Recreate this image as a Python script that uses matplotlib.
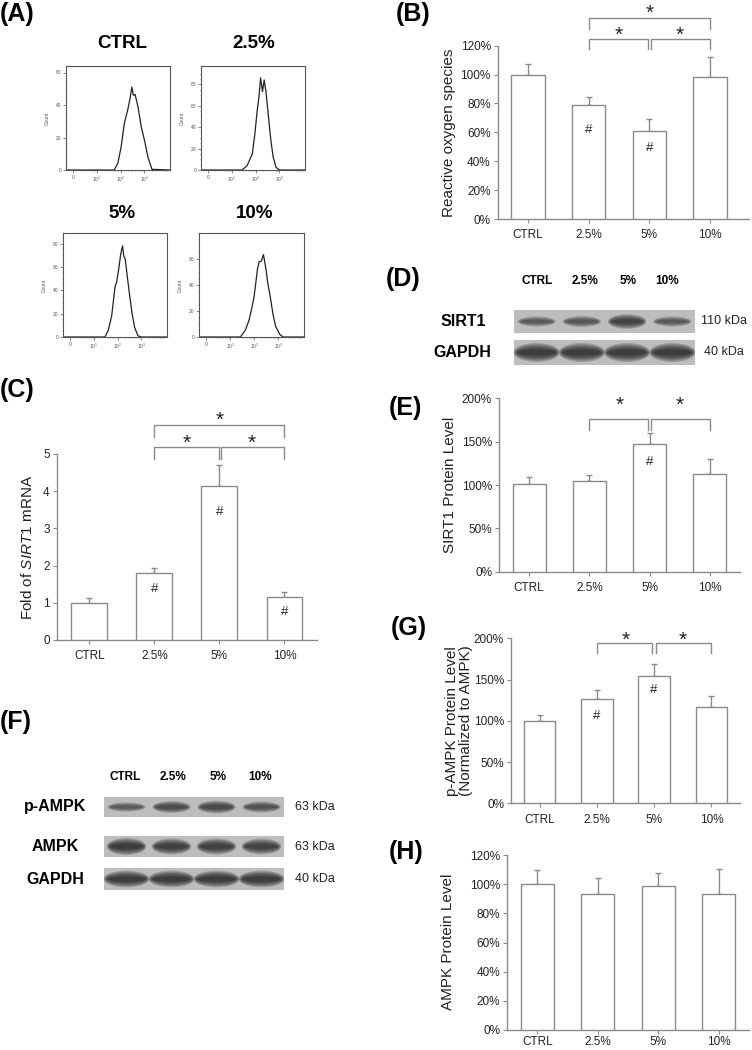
import numpy as np
import matplotlib
matplotlib.use('Agg')
import matplotlib.pyplot as plt
from matplotlib.patches import Ellipse

plt.rcParams['font.family'] = ['Liberation Sans', 'DejaVu Sans']
plt.rcParams['mathtext.fontset'] = 'custom'
plt.rcParams['mathtext.rm'] = 'Liberation Sans'
plt.rcParams['mathtext.it'] = 'Liberation Sans:italic'

# ---- data ----
groups = ['CTRL', '2.5%', '5%', '10%']

# flow cytometry histograms (x in decades of fluorescence, y = count)
ctrl_hist_x = [-0.3, 1.73, 1.88, 2.02, 2.16, 2.30, 2.41, 2.47, 2.54, 2.61, 2.73, 2.87, 3.01, 3.15, 3.32, 4.1]
ctrl_hist_y = [0, 0, 4, 14, 29, 37, 45, 51, 46, 46.5, 39, 26.5, 18, 8, 0.4, 0]
h25_x = [-0.3, 1.43, 1.64, 1.86, 1.97, 2.07, 2.14, 2.21, 2.29, 2.36, 2.43, 2.5, 2.64, 2.74, 2.86, 3.0, 4.1]
h25_y = [0, 0, 4, 15, 34, 56, 68, 86, 73, 84, 74, 59, 28, 12, 2.5, 0, 0]
h5_x = [-0.3, 1.47, 1.61, 1.75, 1.89, 1.96, 2.06, 2.13, 2.21, 2.26, 2.32, 2.40, 2.51, 2.61, 2.72, 2.86, 3.0, 4.1]
h5_y = [0, 0, 6, 18, 43, 47, 60, 71, 78, 69, 67, 53, 35, 20, 8, 1, 0, 0]
h10_x = [-0.3, 1.43, 1.64, 1.79, 1.89, 2.0, 2.14, 2.21, 2.3, 2.39, 2.5, 2.57, 2.67, 2.79, 2.9, 3.07, 3.21, 4.1]
h10_y = [0, 0, 5.5, 13, 21, 31, 52, 57.5, 58, 63, 51, 41, 31, 17, 8, 2, 0, 0]

ros_mean = [100, 79, 61, 98.5]
ros_err = [7, 5.5, 8, 13.5]
mrna_mean = [1.0, 1.79, 4.15, 1.16]
mrna_err = [0.12, 0.14, 0.56, 0.12]
sirt1_mean = [101, 105, 147, 112.5]
sirt1_err = [8, 6, 13, 17.5]
pampk_mean = [100, 126.3, 153.7, 116.3]
pampk_err = [7, 10.7, 15.3, 13.3]
ampk_mean = [100, 93.3, 99, 93.3]
ampk_err = [9.5, 10.7, 8.9, 17.3]

# band darkness per lane (western blots)
sirt1_bands = [0.6, 0.65, 0.85, 0.6]
gapdh_d_bands = [0.95, 0.95, 0.95, 0.95]
pampk_bands = [0.6, 0.75, 0.8, 0.7]
ampk_bands = [0.95, 0.9, 0.9, 0.88]
gapdh_f_bands = [0.95, 0.95, 0.95, 0.95]

EDGE = '#8a8a8a'
TXT = '#222222'
W, H = 752, 1050
fig = plt.figure(figsize=(W / 100, H / 100), dpi=100)


def px_axes(x0, y0, x1, y1):
    return fig.add_axes([x0 / W, 1 - y1 / H, (x1 - x0) / W, (y1 - y0) / H])


def fig_text(x, y, s, **kw):
    fig.text(x / W, 1 - y / H, s, **kw)


def panel_label(x, y, s):
    fig_text(x, y, s, fontsize=18, fontweight='bold', ha='left', va='center')


# ---- (A) histograms ----
def hist_panel(box, xs, ys, ytop, yticks, title, tpos):
    ax = px_axes(*box)
    ax.plot(xs, ys, color='#222222', lw=0.9)
    ax.set_xlim(-0.3, 4.08)
    ax.set_ylim(0, ytop)
    ax.set_xticks([0, 1, 2, 3], ['0', r'$10^1$', r'$10^2$', r'$10^3$'])
    minor = [d + np.log10(k) for d in range(0, 4) for k in range(2, 10)]
    ax.set_xticks(minor, minor=True)
    ax.set_yticks(yticks, [str(v) for v in yticks])
    ax.set_yticks(np.arange(0, ytop, 5), minor=True)
    for s in ax.spines.values():
        s.set_color('#555555')
        s.set_linewidth(0.8)
    ax.tick_params(which='major', length=2, width=0.5, color='#555555', labelsize=3.5,
                   labelcolor='#555555', pad=1.5)
    ax.tick_params(which='minor', length=1, width=0.4, color='#777777')
    ax.set_ylabel('Count', fontsize=3.5, color='#555555', labelpad=4)
    fig_text(tpos[0], tpos[1], title, fontsize=13.5, fontweight='bold', ha='center', va='center')


hist_panel((66, 66, 170, 170), ctrl_hist_x, ctrl_hist_y, 64, [0, 20, 40, 60], 'CTRL', (122, 43))
hist_panel((201, 66, 305, 170), h25_x, h25_y, 97, [0, 20, 40, 60, 80], '2.5%', (254, 43))
hist_panel((63, 233, 167, 337), h5_x, h5_y, 89, [0, 20, 40, 60, 80], '5%', (122, 214))
hist_panel((199, 233, 304, 337), h10_x, h10_y, 79.5, [0, 20, 40, 60], '10%', (255, 214))


# ---- bar chart helpers ----
STAR_FS = 15
HASH_FS = 9.5


def bar_panel(box, means, errs, ymax, yticks, ylabels, xmax, xpad=4.5):
    ax = px_axes(*box)
    x = np.arange(len(groups))
    ax.bar(x, means, width=0.55, color='white', edgecolor=EDGE, linewidth=1.0, zorder=3)
    ax.errorbar(x, means, yerr=[np.zeros(len(x)), errs], fmt='none', ecolor=EDGE,
                elinewidth=1.0, capsize=2.2, capthick=1.0, zorder=2)
    ax.set_xlim(-0.5, xmax)
    ax.set_ylim(0, ymax)
    ax.set_xticks(x, groups)
    ax.set_yticks(yticks, ylabels)
    for s in ['top', 'right']:
        ax.spines[s].set_visible(False)
    for s in ['left', 'bottom']:
        ax.spines[s].set_color(EDGE)
        ax.spines[s].set_linewidth(1.0)
    ax.tick_params(length=3, width=0.8, color=EDGE, labelsize=8.5, labelcolor=TXT)
    ax.tick_params(axis='x', pad=xpad)
    ax.tick_params(axis='y', pad=2)
    ax.patch.set_alpha(0)
    return ax


def bracket(ax, x0, x1, top, leg):
    ax.plot([x0, x0, x1, x1], [leg, top, top, leg], color=EDGE, lw=1.0, clip_on=False)


def star(ax, x, y):
    ax.annotate('*', (x, y), xytext=(0, -0.575 * STAR_FS), textcoords='offset points',
                ha='center', va='baseline', fontsize=STAR_FS, color=TXT, annotation_clip=False)


def hash_mark(ax, x, y):
    ax.annotate('#', (x, y), xytext=(0, -0.35 * HASH_FS), textcoords='offset points',
                ha='center', va='baseline', fontsize=HASH_FS, color=TXT, annotation_clip=False)


def pct(vals):
    return ['%d%%' % v for v in vals]


# ---- (B) ROS ----
ax = bar_panel((497.7, 45.7, 749, 219), ros_mean, ros_err, 120, range(0, 121, 20),
               pct(range(0, 121, 20)), 3.64)
bracket(ax, 1, 1.97, 124.4, 117.5)
bracket(ax, 2.03, 3, 124.4, 117.5)
bracket(ax, 1, 3, 138.9, 131.3)
star(ax, 1.5, 131.5)
star(ax, 2.5, 131.5)
star(ax, 2, 146.7)
hash_mark(ax, 1, 63)
hash_mark(ax, 2, 50)
fig_text(449, 132.5, 'Reactive oxygen species', rotation=90, fontsize=11, ha='center', va='center', color=TXT)

# ---- (C) SIRT1 mRNA ----
ax = bar_panel((56.7, 454, 317, 640), mrna_mean, mrna_err, 5, range(0, 6), [str(v) for v in range(6)], 3.5)
bracket(ax, 1, 1.99, 5.2, 4.87)
bracket(ax, 2.03, 3, 5.2, 4.87)
bracket(ax, 1, 3, 5.79, 5.47)
star(ax, 1.5, 5.45)
star(ax, 2.5, 5.45)
star(ax, 2, 6.07)
hash_mark(ax, 1, 1.42)
hash_mark(ax, 2, 3.49)
hash_mark(ax, 3, 0.8)
fig_text(27, 547, r'Fold of $\it{SIRT1}$ mRNA', rotation=90, fontsize=11, ha='center', va='center', color=TXT)

# ---- (E) SIRT1 protein ----
ax = bar_panel((499, 398.3, 740, 571.7), sirt1_mean, sirt1_err, 200, range(0, 201, 50),
               pct(range(0, 201, 50)), 3.5)
bracket(ax, 1, 1.97, 175.8, 164)
bracket(ax, 2.03, 3, 175.8, 164)
star(ax, 1.5, 199)
star(ax, 2.5, 199)
hash_mark(ax, 2, 128)
fig_text(450, 485, 'SIRT1 Protein Level', rotation=90, fontsize=11, ha='center', va='center', color=TXT)

# ---- (G) p-AMPK ----
ax = bar_panel((511, 638.3, 740, 803.3), pampk_mean, pampk_err, 200, range(0, 201, 50),
               pct(range(0, 201, 50)), 3.5)
bracket(ax, 1, 1.97, 194.7, 181.8)
bracket(ax, 2.03, 3, 194.7, 181.8)
star(ax, 1.5, 205.6)
star(ax, 2.5, 205.6)
hash_mark(ax, 1, 108)
hash_mark(ax, 2, 139.6)
fig_text(459, 721, 'p-AMPK Protein Level\n(Normalized to AMPK)', rotation=90, fontsize=11,
         ha='center', va='center', color=TXT, linespacing=1.0)

# ---- (H) AMPK ----
bar_panel((507, 855, 749, 1030), ampk_mean, ampk_err, 120, range(0, 121, 20),
          pct(range(0, 121, 20)), 3.5, xpad=1.5)
fig_text(448, 942, 'AMPK Protein Level', rotation=90, fontsize=11, ha='center', va='center', color=TXT)


# ---- western blots ----
def blot(box, dark, band_h, band_w, label, lx, kda, kx):
    ax = px_axes(*box)
    ax.set_facecolor('#bdbdbd')
    ax.set_xlim(0, 4)
    ax.set_ylim(0, 1)
    ax.set_xticks([])
    ax.set_yticks([])
    for s in ax.spines.values():
        s.set_visible(False)
    for i, d in enumerate(dark):
        for k in range(6):
            f = 1 - k * 0.14
            ax.add_patch(Ellipse((i + 0.5, 0.5), band_w * (0.75 + 0.25 * f), band_h * d * f,
                                 facecolor='#151515', edgecolor='none', alpha=0.22 * d))
    yc = (box[1] + box[3]) / 2
    fig_text(lx, yc, label, fontsize=11.5, fontweight='bold', ha='center', va='center')
    fig_text(kx, yc, kda, fontsize=9, ha='left', va='center', color=TXT)


def lane_labels(xs, y):
    for g, x in zip(groups, xs):
        fig_text(x, y, g, fontsize=8.5, fontweight='bold', ha='center', va='center')


lane_labels([537, 585, 628, 667], 281)
blot((514, 310, 695, 333), sirt1_bands, 0.75, 0.85, 'SIRT1', 463, '110 kDa', 701)
blot((514, 340, 695, 365), gapdh_d_bands, 0.8, 1.02, 'GAPDH', 462, '40 kDa', 704)

lane_labels([125, 173, 218, 260], 777)
blot((104, 797, 284, 817), pampk_bands, 0.8, 0.85, 'p-AMPK', 55, '63 kDa', 295)
blot((104, 836, 284, 857), ampk_bands, 0.85, 0.88, 'AMPK', 55, '63 kDa', 295)
blot((104, 868, 284, 890), gapdh_f_bands, 0.8, 1.02, 'GAPDH', 55, '40 kDa', 295)

# ---- panel labels ----
panel_label(0, 14, '(A)')
panel_label(396, 13.5, '(B)')
panel_label(0, 390, '(C)')
panel_label(386, 279, '(D)')
panel_label(389, 408, '(E)')
panel_label(0, 722, '(F)')
panel_label(391, 628, '(G)')
panel_label(389, 852, '(H)')

fig.savefig('out.png', dpi=100)
